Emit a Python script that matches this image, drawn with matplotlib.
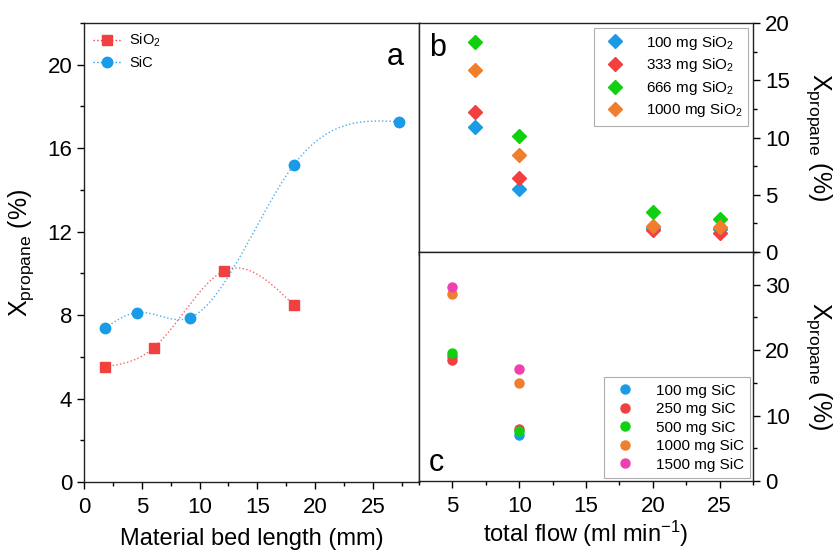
import numpy as np
import matplotlib
matplotlib.use('Agg')
import matplotlib.pyplot as plt
from matplotlib.ticker import MultipleLocator

plt.rcParams['font.family'] = ['Liberation Sans', 'DejaVu Sans']
plt.rcParams['mathtext.default'] = 'regular'

# panel a: conversion vs bed length
sio2_len = [1.85, 6.05, 12.1, 18.15]
sio2_x = [5.53, 6.44, 10.12, 8.49]
sic_len = [1.85, 4.55, 9.15, 18.15, 27.3]
sic_x = [7.39, 8.12, 7.87, 15.19, 17.27]

# panel b: SiO2 loadings vs total flow
flow_b = [6.67, 10, 20, 25]
b_labels = ['100 mg SiO$_2$', '333 mg SiO$_2$', '666 mg SiO$_2$', '1000 mg SiO$_2$']
b_vals = [[10.88, 5.51, 2.1, 2.0],
          [12.25, 6.45, 1.92, 1.63],
          [18.31, 10.09, 3.47, 2.89],
          [15.92, 8.46, 2.27, 2.21]]

# panel c: SiC loadings vs total flow
flow_c = [5, 10]
c_labels = ['100 mg SiC', '250 mg SiC', '500 mg SiC', '1000 mg SiC', '1500 mg SiC']
c_vals = [[19.1, 7.1],
          [18.5, 7.95],
          [19.5, 7.6],
          [28.56, 15.03],
          [29.6, 17.08]]

red = '#f04040'
blue = '#1a9be8'
green = '#10d010'
orange = '#ef7f2f'
pink = '#f040b0'
b_cols = [blue, red, green, orange]
c_cols = [blue, red, green, orange, pink]


def natural_spline(x, y, n=200):
    x = np.asarray(x, float)
    y = np.asarray(y, float)
    k = len(x)
    h = np.diff(x)
    A = np.zeros((k, k))
    r = np.zeros(k)
    A[0, 0] = A[-1, -1] = 1
    for i in range(1, k - 1):
        A[i, i - 1] = h[i - 1]
        A[i, i] = 2 * (h[i - 1] + h[i])
        A[i, i + 1] = h[i]
        r[i] = 6 * ((y[i + 1] - y[i]) / h[i] - (y[i] - y[i - 1]) / h[i - 1])
    M = np.linalg.solve(A, r)
    xs = np.linspace(x[0], x[-1], n)
    ys = np.empty_like(xs)
    for j, t in enumerate(xs):
        i = min(np.searchsorted(x, t, side='right') - 1, k - 2)
        a = x[i + 1] - t
        b = t - x[i]
        ys[j] = (M[i] * a**3 + M[i + 1] * b**3) / (6 * h[i]) \
            + (y[i] / h[i] - M[i] * h[i] / 6) * a \
            + (y[i + 1] / h[i] - M[i + 1] * h[i] / 6) * b
    return xs, ys


W, H = 839, 552
fig = plt.figure(figsize=(W / 100, H / 100), dpi=100)
ax_a = fig.add_axes([84 / W, (H - 482) / H, 335 / W, 459 / H])
ax_b = fig.add_axes([419 / W, (H - 252) / H, 334 / W, 229 / H])
ax_c = fig.add_axes([419 / W, (H - 481) / H, 334 / W, 229 / H])

for ax in (ax_a, ax_b, ax_c):
    for s in ax.spines.values():
        s.set_linewidth(1.0)
        s.set_color('#222222')

# ---- panel a
xs, ys = natural_spline(sio2_len, sio2_x)
ax_a.plot(xs, ys, ':', color=red, lw=1.0, alpha=0.8)
xs, ys = natural_spline(sic_len, sic_x)
ax_a.plot(xs, ys, ':', color=blue, lw=1.0, alpha=0.8)
ax_a.plot(sio2_len, sio2_x, 's', color=red, ms=7, ls='none')
ax_a.plot(sic_len, sic_x, 'o', color=blue, ms=7.5, ls='none')
# legend proxies with dotted line
ax_a.plot([], [], 's:', color=red, ms=7, lw=1.0, label='SiO$_2$')
ax_a.plot([], [], 'o:', color=blue, ms=7.5, lw=1.0, label='SiC')
ax_a.legend(loc='upper left', frameon=False, fontsize=10.5, handlelength=2.0,
            borderaxespad=0.2, handletextpad=0.5, labelspacing=0.5)
ax_a.set_xlim(0, 29)
ax_a.set_ylim(0, 22)
ax_a.xaxis.set_major_locator(MultipleLocator(5))
ax_a.xaxis.set_minor_locator(MultipleLocator(2.5))
ax_a.yaxis.set_major_locator(MultipleLocator(4))
ax_a.yaxis.set_minor_locator(MultipleLocator(2))
ax_a.tick_params(which='both', direction='out', top=False, right=False,
                 labelsize=16, width=1.0)
ax_a.tick_params(which='major', length=5)
ax_a.tick_params(which='minor', length=3)
ax_a.tick_params(axis='x', pad=6)
ax_a.set_xlabel('Material bed length (mm)', fontsize=17, labelpad=7)
ax_a.set_ylabel('X$_{propane}$ (%)', fontsize=18, labelpad=8)
ax_a.text(0.955, 0.925, 'a', transform=ax_a.transAxes, fontsize=22,
          ha='right', va='center')

# ---- panel b
for lab, col, vals in zip(b_labels, b_cols, b_vals):
    ax_b.plot(flow_b, vals, 'D', color=col, ms=7, ls='none', label=lab)
ax_b.set_xlim(2.5, 27.5)
ax_b.set_ylim(0, 20)
ax_b.xaxis.set_major_locator(MultipleLocator(5))
ax_b.xaxis.set_minor_locator(MultipleLocator(2.5))
ax_b.yaxis.set_major_locator(MultipleLocator(5))
ax_b.yaxis.set_minor_locator(MultipleLocator(2.5))
ax_b.yaxis.tick_right()
ax_b.yaxis.set_label_position('right')
ax_b.tick_params(which='both', direction='out', left=False, top=False,
                 labelbottom=False, labelsize=16, width=1.0)
ax_b.tick_params(which='major', length=5)
ax_b.tick_params(which='minor', length=3)
ax_b.set_ylabel('X$_{propane}$ (%)', fontsize=18, rotation=-90, labelpad=32)
leg = ax_b.legend(loc='upper right', fontsize=11, frameon=True, fancybox=False,
                  borderaxespad=0.3, handletextpad=1.0, labelspacing=0.3,
                  borderpad=0.4)
leg.get_frame().set_edgecolor('#999999')
leg.get_frame().set_linewidth(0.8)
ax_b.text(0.03, 0.89, 'b', transform=ax_b.transAxes, fontsize=22,
          ha='left', va='center')

# ---- panel c
for lab, col, vals in zip(c_labels, c_cols, c_vals):
    ax_c.plot(flow_c, vals, 'o', color=col, ms=6.5, ls='none', label=lab)
ax_c.set_xlim(2.5, 27.5)
ax_c.set_ylim(0, 35)
ax_c.xaxis.set_major_locator(MultipleLocator(5))
ax_c.xaxis.set_minor_locator(MultipleLocator(2.5))
ax_c.yaxis.set_major_locator(MultipleLocator(10))
ax_c.yaxis.set_minor_locator(MultipleLocator(5))
ax_c.yaxis.tick_right()
ax_c.yaxis.set_label_position('right')
ax_c.tick_params(which='both', direction='out', left=False, top=False,
                 labelsize=16, width=1.0)
ax_c.tick_params(which='major', length=5)
ax_c.tick_params(which='minor', length=3)
ax_c.tick_params(axis='x', pad=6)
ax_c.set_ylabel('X$_{propane}$ (%)', fontsize=18, rotation=-90, labelpad=32)
ax_c.set_xlabel('total flow (ml min$^{-1}$)', fontsize=17, labelpad=1)
leg = ax_c.legend(loc='lower right', fontsize=11, frameon=True, fancybox=False,
                  borderaxespad=0.2, handletextpad=1.0, labelspacing=0.3,
                  borderpad=0.4)
leg.get_frame().set_edgecolor('#999999')
leg.get_frame().set_linewidth(0.8)
ax_c.text(0.03, 0.08, 'c', transform=ax_c.transAxes, fontsize=22,
          ha='left', va='center')

fig.savefig('out.png', dpi=100)
